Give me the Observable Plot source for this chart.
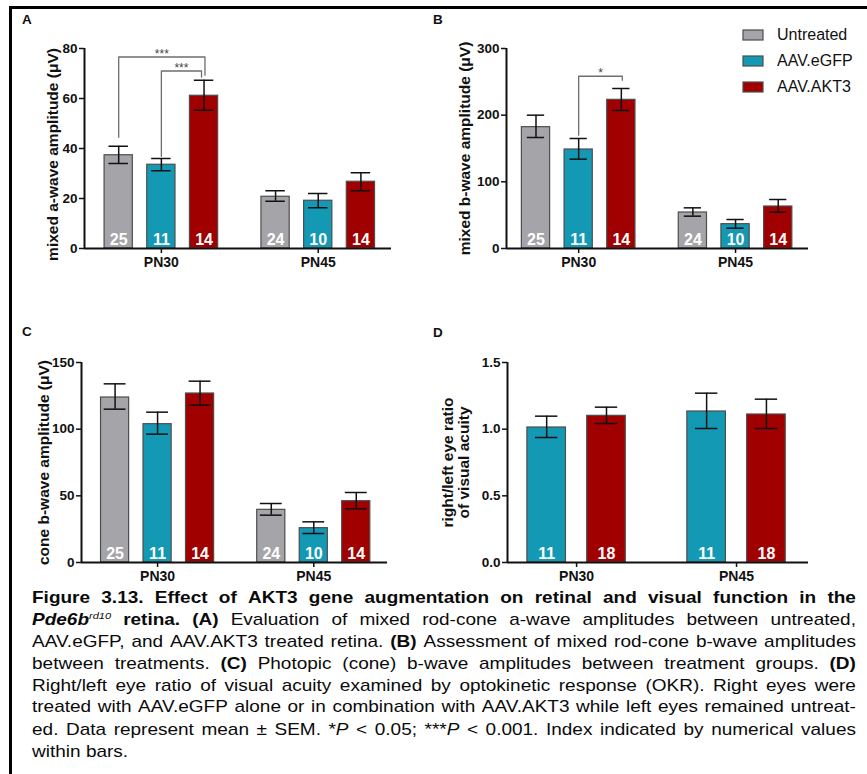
<!DOCTYPE html>
<html><head><meta charset="utf-8">
<script src="https://cdn.jsdelivr.net/npm/d3@7"></script>
<script src="https://cdn.jsdelivr.net/npm/@observablehq/plot@0.6"></script>
<style>
body{margin:0;background:#fff;}
#page{position:relative;width:867px;height:774px;overflow:hidden;background:#fff;font-family:"Liberation Sans",Arial,Helvetica,sans-serif;color:#111;}
#frame{position:absolute;left:9px;top:6px;width:858px;height:768px;border-top:3px solid #000;border-left:3px solid #000;box-sizing:border-box;}
.panel{position:absolute;}
.letter{position:absolute;font-weight:bold;font-size:13.5px;line-height:14px;}
#legend{position:absolute;left:743px;top:22px;}
#legend .leg-swatches{margin:0 !important;font-family:"Liberation Sans",Arial,sans-serif !important;font-size:16px !important;color:#111;}
#legend .leg-swatch{height:26px !important;padding:0 !important;margin:0 !important;}
#legend .leg-swatch > svg{margin-right:14px !important;overflow:visible;}
#legend .leg-swatch rect{stroke:#4d4d4d;stroke-width:1.2px;}
#caption{position:absolute;left:32px;top:586.7px;width:824px;transform:scaleY(0.853);transform-origin:0 0;font-size:19px;line-height:25.67px;color:#0a0a0a;}
.cl{display:flex;justify-content:space-between;white-space:nowrap;}
.cl.bold{font-weight:bold;}
.cl.last{justify-content:flex-start;}
.cl.last span{margin-right:5.3px;}
sup{font-size:11px;line-height:0;vertical-align:7px;}
</style></head>
<body>
<div id="page">
  <div id="frame"></div>
  <div class="letter" style="left:22px;top:13px">A</div>
  <div class="letter" style="left:433px;top:13px">B</div>
  <div class="letter" style="left:22px;top:325px">C</div>
  <div class="letter" style="left:433px;top:326px">D</div>
  <div id="pA" class="panel" style="left:0px;top:36px"></div>
  <div id="pB" class="panel" style="left:422px;top:36px"></div>
  <div id="pC" class="panel" style="left:0px;top:350px"></div>
  <div id="pD" class="panel" style="left:422px;top:350px"></div>
  <div id="legend"></div>
  <div id="caption"></div>
</div>
<script>
// ---------- data ----------
const groups = ["PN30", "PN45"];
const treatments = ["Untreated", "AAV.eGFP", "AAV.AKT3"];
const colors = ["#a5a4a9", "#1499b5", "#a10000"];

// Panel A: mixed a-wave amplitude (µV); order: PN30 x treatments, PN45 x treatments
const aMean = [37.3, 33.5, 61.1, 20.7, 19.1, 26.7];
const aLow  = [34.0, 31.1, 55.3, 18.9, 16.3, 23.1];
const aHigh = [40.9, 36.0, 67.3, 23.1, 22.0, 30.3];
const aN    = [25, 11, 14, 24, 10, 14];
const aSig  = [
  {group: "PN30", from: "Untreated", to: "AAV.AKT3", top: 76.6, fromEnd: 44.5, toEnd: 69.3, label: "***"},
  {group: "PN30", from: "AAV.eGFP", to: "AAV.AKT3", top: 71.0, fromEnd: 36.9, toEnd: 68.6, label: "***"}
];

// Panel B: mixed b-wave amplitude (µV)
const bMean = [182, 148.5, 223, 54, 36.5, 63];
const bLow  = [166.5, 134, 207, 48.5, 30.5, 54.5];
const bHigh = [200, 165, 240, 61, 43.5, 73.5];
const bN    = [25, 11, 14, 24, 10, 14];
const bSig  = [
  {group: "PN30", from: "AAV.eGFP", to: "AAV.AKT3", top: 258.4, fromEnd: 170, toEnd: 252.4, label: "*"}
];

// Panel C: cone b-wave amplitude (µV)
const cMean = [123.75, 103.75, 126.75, 39.5, 25.75, 46];
const cLow  = [115, 96.25, 118, 35.5, 21.75, 40.25];
const cHigh = [134, 112.75, 136, 44.25, 30.5, 52.5];
const cN    = [25, 11, 14, 24, 10, 14];

// Panel D: right/left eye ratio of visual acuity
const dTreatments = ["AAV.eGFP", "AAV.AKT3"];
const dMean = [1.0125, 1.10, 1.1325, 1.11];
const dLow  = [0.9375, 1.0425, 1.005, 1.005];
const dHigh = [1.0975, 1.165, 1.27, 1.225];
const dN    = [11, 18, 11, 18];

const yTicksA = [0, 20, 40, 60, 80];
const yTicksB = [0, 100, 200, 300];
const yTicksC = [0, 50, 100, 150];
const yTicksD = [0, 0.5, 1.0, 1.5];

const captionLines = [
  "Figure 3.13. Effect of AKT3 gene augmentation on retinal and visual function in the",
  "<b><i>Pde6b</i></b><sup><i>rd10</i></sup> <b>retina.</b> <b>(A)</b> Evaluation of mixed rod-cone a-wave amplitudes between untreated,",
  "AAV.eGFP, and AAV.AKT3 treated retina. <b>(B)</b> Assessment of mixed rod-cone b-wave amplitudes",
  "between treatments. <b>(C)</b> Photopic (cone) b-wave amplitudes between treatment groups. <b>(D)</b>",
  "Right/left eye ratio of visual acuity examined by optokinetic response (OKR). Right eyes were",
  "treated with AAV.eGFP alone or in combination with AAV.AKT3 while left eyes remained untreat-",
  "ed. Data represent mean ± SEM. *<i>P</i> &lt; 0.05; ***<i>P</i> &lt; 0.001. Index indicated by numerical values",
  "within bars."
];

// ---------- drawing ----------
const FONT = "Liberation Sans, Arial, Helvetica, sans-serif";
const legNudge = [0.006, -0.016];

function panel(cfg) {
  const trs = cfg.treatments;
  const k = trs.length;
  const centerOf = (g, t) => groups.indexOf(g) + (trs.indexOf(t) - (k - 1) / 2) * cfg.step;
  const rows = [];
  groups.forEach((g, gi) => trs.forEach((t, ti) => {
    const i = gi * k + ti;
    rows.push({group: g, treatment: t, mean: cfg.mean[i], lo: cfg.lo[i], hi: cfg.hi[i], n: cfg.n[i], cx: centerOf(g, t)});
  }));
  const hw = cfg.barWidth / 2;
  const cap = cfg.cap;
  const sig = cfg.sig || [];
  const bracketPts = sig.flatMap((s, j) => {
    const x1 = centerOf(s.group, s.from), x2 = centerOf(s.group, s.to) + legNudge[j];
    return [{j, x: x1, y: s.fromEnd}, {j, x: x1, y: s.top}, {j, x: x2, y: s.top}, {j, x: x2, y: s.toEnd}];
  });
  const stars = sig.map((s, j) => ({
    x: (centerOf(s.group, s.from) + centerOf(s.group, s.to) + legNudge[j]) / 2, y: s.top, label: s.label
  }));
  return Plot.plot({
    width: 400, height: 250,
    marginLeft: cfg.mL, marginRight: cfg.mR, marginTop: 12, marginBottom: 38,
    x: {type: "linear", domain: cfg.xDomain, label: null},
    y: {type: "linear", domain: cfg.yDomain, label: null},
    color: {domain: treatments, range: colors},
    style: {fontFamily: FONT, fontWeight: "bold", color: "#111", background: "transparent", overflow: "visible"},
    marks: [
      Plot.rect(rows, {x1: d => d.cx - hw, x2: d => d.cx + hw, y1: () => 0, y2: "mean",
        fill: "treatment", stroke: "#4d4d4d", strokeWidth: 1.2}),
      Plot.ruleX(rows, {x: "cx", y1: "lo", y2: "hi", stroke: "#111", strokeWidth: 1.5}),
      Plot.ruleY(rows, {y: "hi", x1: d => d.cx - cap, x2: d => d.cx + cap, stroke: "#111", strokeWidth: 1.5}),
      Plot.ruleY(rows, {y: "lo", x1: d => d.cx - cap, x2: d => d.cx + cap, stroke: "#111", strokeWidth: 1.5}),
      Plot.text(rows, {x: "cx", y: () => 0, text: "n", fill: "white", fontSize: 16, fontWeight: "bold",
        lineAnchor: "middle", dy: -8.5}),
      Plot.line(bracketPts, {x: "x", y: "y", z: "j", stroke: "#6e6e6e", strokeWidth: 1.3, curve: "linear"}),
      Plot.text(stars, {x: "x", y: "y", text: "label", fontSize: 12, fontWeight: "normal", fill: "#444",
        lineAnchor: "middle", dy: -3}),
      Plot.axisY({ticks: cfg.yTicks, tickFormat: cfg.yFormat, tickSize: 5, tickPadding: 2, fontSize: 13.5,
        strokeWidth: 1.5, label: null}),
      Plot.axisX({ticks: [0, 1], tickFormat: i => groups[i], tickSize: 5, tickPadding: 4, fontSize: 14,
        strokeWidth: 1.5, label: null}),
      Plot.ruleY([0], {stroke: "#111", strokeWidth: 2}),
      Plot.ruleX([cfg.xDomain[0]], {stroke: "#111", strokeWidth: 2}),
      Plot.text([cfg.yLabel], {text: d => d, frameAnchor: "left", rotate: -90, dx: cfg.labelDx, dy: cfg.labelDy || 0,
        fontSize: 15.5, fontWeight: "bold", textAnchor: "middle", lineAnchor: "middle", lineHeight: 1.08})
    ]
  });
}

const fmtInt = d3.format("d");
const fmt1 = d3.format(".1f");

document.getElementById("pA").appendChild(panel({
  treatments, mean: aMean, lo: aLow, hi: aHigh, n: aN, sig: aSig,
  mL: 84, mR: 9, xDomain: [-0.49, 1.467], yDomain: [0, 80], yTicks: yTicksA, yFormat: fmtInt,
  step: 0.272, barWidth: 0.18, cap: 0.062,
  yLabel: "mixed a-wave amplitude (μV)", labelDx: -31.5, labelDy: 6
}));
document.getElementById("pB").appendChild(panel({
  treatments, mean: bMean, lo: bLow, hi: bHigh, n: bN, sig: bSig,
  mL: 84, mR: 14, xDomain: [-0.46, 1.465], yDomain: [0, 300], yTicks: yTicksB, yFormat: fmtInt,
  step: 0.272, barWidth: 0.18, cap: 0.055,
  yLabel: "mixed b-wave amplitude (μV)", labelDx: -42
}));
document.getElementById("pC").appendChild(panel({
  treatments, mean: cMean, lo: cLow, hi: cHigh, n: cN,
  mL: 81, mR: 13, xDomain: [-0.487, 1.472], yDomain: [0, 150], yTicks: yTicksC, yFormat: fmtInt,
  step: 0.272, barWidth: 0.18, cap: 0.07,
  yLabel: "cone b-wave amplitude (μV)", labelDx: -38
}));
document.getElementById("pD").appendChild(panel({
  treatments: dTreatments, mean: dMean, lo: dLow, hi: dHigh, n: dN,
  mL: 85, mR: 14, xDomain: [-0.432, 1.45], yDomain: [0, 1.5], yTicks: yTicksD, yFormat: fmt1,
  step: 0.374, barWidth: 0.241, cap: 0.07,
  yLabel: "right/left eye ratio\nof visual acuity", labelDx: -52
}));

document.getElementById("legend").appendChild(Plot.legend({
  color: {domain: treatments, range: colors},
  legend: "swatches", columns: 1, swatchWidth: 20, swatchHeight: 10, className: "leg"
}));

const cap = document.getElementById("caption");
captionLines.forEach((line, li) => {
  const div = document.createElement("div");
  div.className = "cl" + (li === 0 ? " bold" : "") + (li === captionLines.length - 1 ? " last" : "");
  line.split(" ").forEach(w => {
    const s = document.createElement("span");
    s.innerHTML = w;
    div.appendChild(s);
  });
  cap.appendChild(div);
});
</script>
</body></html>
